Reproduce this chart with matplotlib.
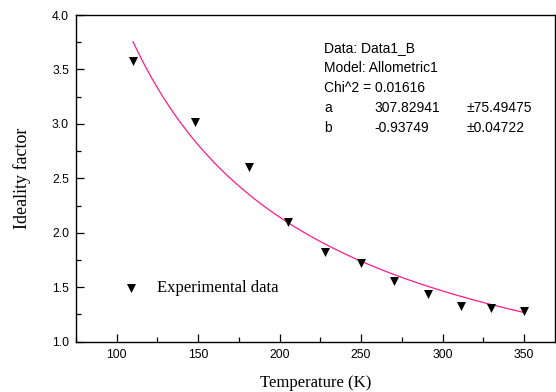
import numpy as np
import matplotlib.pyplot as plt
from matplotlib.ticker import MultipleLocator

# experimental points
temperature = [110, 148, 181, 205, 228, 250, 270, 291, 311, 330, 350]
ideality = [3.58, 3.015, 2.607, 2.099, 1.827, 1.72, 1.56, 1.435, 1.328, 1.312, 1.282]

# Allometric1 fit y = a * x^b (parameters from the fit report)
fit_a = 307.82941
fit_b = -0.93749

report = [
    ("Data: Data1_B", "", ""),
    ("Model: Allometric1", "", ""),
    ("Chi^2 = 0.01616", "", ""),
    ("a", "307.82941", "\u00b175.49475"),
    ("b", "-0.93749", "\u00b10.04722"),
]


def main():
    fig = plt.figure(figsize=(5.56, 3.92), dpi=100)
    ax = fig.add_axes([0.1367, 0.1283, 0.8615, 0.8334])

    x_fit = np.linspace(min(temperature), max(temperature), 200)
    ax.plot(x_fit, fit_a * x_fit ** fit_b, color="#FF1A8C", lw=0.9, zorder=2)
    ax.scatter(temperature, ideality, marker="v", s=42, color="black",
               linewidths=0, zorder=3, label="Experimental data")

    ax.set_xlim(75, 369)
    ax.set_ylim(1.0, 4.0)
    ax.xaxis.set_major_locator(MultipleLocator(50))
    ax.xaxis.set_minor_locator(MultipleLocator(25))
    ax.yaxis.set_major_locator(MultipleLocator(0.5))
    ax.yaxis.set_minor_locator(MultipleLocator(0.25))
    ax.tick_params(which="both", direction="in", top=False, right=False,
                   labelsize=8.8, width=0.9, pad=5)
    ax.tick_params(which="major", length=6)
    ax.tick_params(which="minor", length=3.5)
    for lab in ax.get_xticklabels() + ax.get_yticklabels():
        lab.set_family("Liberation Sans")
    for sp in ax.spines.values():
        sp.set_linewidth(1.0)

    ax.set_xlabel("Temperature (K)", family="Liberation Serif", fontsize=12, labelpad=10)
    ax.set_ylabel("Ideality factor", family="Liberation Serif", fontsize=13, labelpad=15)

    ax.legend(loc="center left", bbox_to_anchor=(0.08, 0.163), frameon=False,
              prop={"family": "Liberation Serif", "size": 12},
              handlelength=2.0, handletextpad=0.55, borderaxespad=0, borderpad=0)

    # fit report text
    col_x = [0.518, 0.623, 0.8157]
    y0 = 1 - (48 - 15) / 326.7
    for i, row in enumerate(report):
        y = y0 - i * 19.9 / 326.7
        for cx, txt in zip(col_x, row):
            if txt:
                ax.text(cx, y, txt, transform=ax.transAxes, va="center", ha="left",
                        family="Liberation Sans", fontsize=10)

    fig.savefig("out.png", dpi=100)


if __name__ == "__main__":
    main()
